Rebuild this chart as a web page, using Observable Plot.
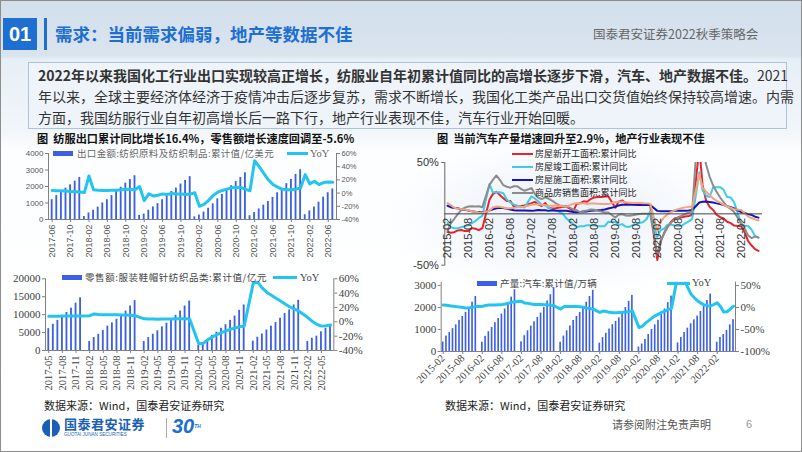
<!DOCTYPE html>
<html lang="zh"><head><meta charset="utf-8">
<script src="https://cdn.jsdelivr.net/npm/d3@7"></script>
<script src="https://cdn.jsdelivr.net/npm/@observablehq/plot@0.6"></script>
<style>
*{box-sizing:border-box}
html,body{margin:0;padding:0}
body{width:802px;height:452px;position:relative;overflow:hidden;font-family:"Noto Sans CJK SC","Noto Sans",sans-serif;background:#fff}
.abs{position:absolute;white-space:nowrap}
#slide{position:absolute;left:0;top:0;width:802px;height:452px;
 background:
  radial-gradient(ellipse 250px 110px at 560px 215px, rgba(185,205,232,0.30), rgba(255,255,255,0) 70%),
  linear-gradient(180deg,#d3dfeb 0px,#d9e4ef 55px,#e6eef6 58px,#f1f6fa 130px,#fdfeff 150px,#ffffff 100%);
 border:1px solid #8d8d8d;}
#num{left:3px;top:18px;width:34px;height:32px;background:#1d6fd1;color:#fff;font:bold 20px/32px "Liberation Sans",sans-serif;text-align:center}
#vbar{left:44px;top:18px;width:3px;height:32px;background:#1d6fd1}
#title{left:55px;top:21px;font-size:17.5px;font-weight:bold;color:#1d6fd1;line-height:26px}
#brand{left:593px;top:25px;font-size:12.5px;color:#666;line-height:18px}
#box{left:28px;top:62px;width:759px;height:67px;border:1px solid #a9c4dc;background:#eef4fa}
.tl{position:absolute;left:9px;width:746px;font-size:14px;line-height:21px;color:#333;white-space:nowrap}
.just{text-align:justify;text-align-last:justify}
.ctitle{font-size:11.2px;font-weight:bold;color:#111;line-height:12px}
.leg{font-size:9.5px;line-height:11px}
.src{font-size:11px;color:#222;line-height:14px}
</style></head>
<body>
<div id="slide"></div>
<div id="num" class="abs">01</div>
<div id="vbar" class="abs"></div>
<div id="title" class="abs">需求：当前需求偏弱，地产等数据不佳</div>
<div id="brand" class="abs">国泰君安证券2022秋季策略会</div>
<div id="box" class="abs">
  <div class="tl just" style="top:2px"><b>2022年以来我国化工行业出口实现较高正增长，纺服业自年初累计值同比的高增长逐步下滑，汽车、地产数据不佳。</b>2021</div>
  <div class="tl just" style="top:23px">年以来，全球主要经济体经济于疫情冲击后逐步复苏，需求不断增长，我国化工类产品出口交货值始终保持较高增速。内需</div>
  <div class="tl" style="top:44px">方面，我国纺服行业自年初高增长后一路下行，地产行业表现不佳，汽车行业开始回暖。</div>
</div>

<div class="abs ctitle" style="left:37px;top:132px">图&nbsp;&nbsp;纺服出口累计同比增长16.4%，零售额增长速度回调至-5.6%</div>
<div class="abs ctitle" style="left:437px;top:132px">图&nbsp;&nbsp;当前汽车产量增速回升至2.9%，地产行业表现不佳</div>

<div id="c1" class="abs" style="left:10px;top:145px"></div>
<div id="c2" class="abs" style="left:5px;top:268px"></div>
<div id="c3" class="abs" style="left:400px;top:150px"></div>
<div id="c4" class="abs" style="left:400px;top:275px"></div>

<div id="legends"></div>

<div class="abs src" style="left:44px;top:398px">数据来源：Wind，国泰君安证券研究</div>
<div class="abs src" style="left:445px;top:398px">数据来源：Wind，国泰君安证券研究</div>

<div class="abs" style="left:42px;top:419px;width:18px;height:18px;border-radius:50%;background:linear-gradient(90deg,#1b5fb5 0 42%,#fff 42% 58%,#1b5fb5 58% 100%)"></div>
<div class="abs" style="left:64px;top:416px;font-size:13px;font-weight:bold;color:#1b5fb5;line-height:16px;letter-spacing:0.5px">国泰君安证券</div>
<div class="abs" style="left:64px;top:432px;font-size:4.6px;color:#1b5fb5;line-height:6px;font-family:'Liberation Sans',sans-serif">GUOTAI JUNAN SECURITIES</div>
<div class="abs" style="left:166px;top:418px;width:1px;height:20px;background:#aaa"></div>
<div class="abs" style="left:172px;top:414px;font:italic bold 20px/24px 'Liberation Sans',sans-serif;color:#1b6fd1">30<span style="font-size:5px;vertical-align:top">TH</span></div>
<div class="abs" style="left:612px;top:417px;font-size:11px;color:#555;line-height:14px">请参阅附注免责声明</div>
<div class="abs" style="left:746px;top:417px;font-size:11px;color:#999;line-height:14px;font-family:'Liberation Sans',sans-serif">6</div>

<script>
// ---------- helpers ----------
function monthRange(start, end) {
  const out = []; let [y, m] = start.split("-").map(Number); const [ey, em] = end.split("-").map(Number);
  while (y < ey || (y === ey && m <= em)) { out.push(`${y}-${String(m).padStart(2, "0")}`); m++; if (m > 12) { m = 1; y++; } }
  return out;
}
const noJan = m => !m.endsWith("-01");
const ym = s => { const [y, m] = s.split("-").map(Number); return new Date(Date.UTC(y, m - 1, 1)); };

// ---------- chart 1: textile exports ----------
const c1Months = monthRange("2017-06", "2022-07");
const c1Export = [
  1200,1450,1700,1900,2100,2320,2550,
  180,400,560,750,1000,1200,1450,1700,1950,2200,2420,2650,
  250,330,560,760,960,1200,1450,1700,1900,2150,2370,2600,
  160,270,450,680,950,1250,1520,1800,2050,2300,2550,2830,
  230,420,640,870,1090,1340,1620,1880,2170,2430,2730,3020,
  290,520,760,1050,1350,1620,1850
];
const c1Yoy = [
  3.9,3.6,3.4,3.0,2.6,2.2,1.8,
  0.8,26,4.9,4.2,4.0,4.0,4.2,4.5,5.0,6.0,5.5,5.0,
  10,-11.4,-1.2,-4.3,-3.3,-1.2,-2.2,-0.4,-1.5,-1.5,-2.0,-1.5,
  0.5,-20,-17,-11,-3.5,1.5,4,6,8,9,8.6,5.6,
  3.5,49,40,30,20,13,9,6,5,5,6,7.6,
  28,14,18,13,16,16.8,16.4
];
const c1Ticks = ["2017-06","2017-10","2018-02","2018-06","2018-10","2019-02","2019-06","2019-10","2020-02","2020-06","2020-10","2021-02","2021-06","2021-10","2022-02","2022-06"];
const c1LeftTicks = [0, 1000, 2000, 3000, 4000];
const c1RightTicks = [-40, -20, 0, 20, 40, 60];
const c1BarLabel = "出口金额:纺织原料及纺织制品:累计值/亿美元";

// ---------- chart 2: apparel retail ----------
const c2Months = monthRange("2017-05", "2022-07");
const c2Retail = [
  6100,7300,8400,9500,10600,11800,13200,14700,
  2500,3600,4500,5600,6800,7700,8700,10000,11000,12400,13900,
  2500,3600,4500,5500,6600,7600,8700,9800,11000,12400,13800,
  1400,2100,3100,4200,5100,6200,7200,8400,9600,11200,12700,
  2600,3700,4600,5700,6800,7800,9000,10300,11300,12700,14000,
  2500,3400,4000,5200,6200,7200
];
const c2Yoy = [
  7.9,7.9,7.9,8.0,8.1,8.2,8.2,8.0,
  8.5,11,10.2,10,10,9.8,9.8,9.6,9.5,9.2,8.6,
  4.2,4.0,3.8,3.5,3.8,4.0,4.0,4.2,4.2,4.3,4.0,
  -30.7,-30,-25,-21,-18,-15,-12.5,-10.5,-8.5,-7,-6,
  54,55,47,41,37,33,29,25,21,18,15,
  6,0.5,-3.5,-6,-5.5,-4.5
];
const c2Ticks = ["2017-05","2017-08","2017-11","2018-02","2018-05","2018-08","2018-11","2019-02","2019-05","2019-08","2019-11","2020-02","2020-05","2020-08","2020-11","2021-02","2021-05","2021-08","2021-11","2022-02","2022-05"];
const c2LeftTicks = [0, 5000, 10000, 15000, 20000];
const c2RightTicks = [-40, -20, 0, 20, 40, 60];
const c2BarLabel = "零售额:服装鞋帽针纺织品类:累计值/亿元";

// ---------- chart 3: property ----------
const c3Names = ["房屋新开工面积:累计同比", "房屋竣工面积:累计同比", "房屋施工面积:累计同比", "商品房销售面积:累计同比", "房地产开发投资:累计同比"];
const c3Colors = ["#e8242a", "#3fcbea", "#1414b8", "#8c8c8c", "#f2a47e"];
const c3NewStarts = [
  -17.7,-18.4,-17.9,-16.1,-15.8,-16.8,-16.8,-13.9,-14.5,-15.9,-14.0,
  13.7,19.2,21.4,18.4,15.3,12.5,12.5,6.9,7.5,7.6,8.1,
  10.4,11.6,9.2,7.6,10.6,5.6,5.3,5.4,6.1,6.6,7.0,
  2.9,9.7,10.4,12.2,11.8,14.4,16.0,16.4,16.3,16.8,17.2,
  6.0,11.9,13.1,10.5,10.1,9.5,8.9,8.6,10.0,8.6,8.5,
  -44.9,-27.2,-18.4,-12.8,-7.6,-4.5,-3.6,-3.4,-2.6,-2.0,-1.2,
  64.3,28.2,12.8,6.9,3.8,-0.9,-3.2,-4.5,-7.7,-9.1,-11.4,
  -12.2,-17.5,-26.3,-30.6,-34.4,-36.1
];
const c3Completed = [
  -9,-13,-14,-14,-13,-12,-11,-9,-7,-4,-2,
  29,21,21,21,20,14,11,9,8,7,6.1,
  17,15,12,9,8,6,4,3,2,0,-4.4,
  -10,-13,-12,-12,-11,-11,-11,-12,-12,-12,-7.8,
  -8,-11,-10,-12.4,-12.7,-11,-10,-9,-8,-5,2.6,
  -22.9,-15.8,-14.5,-10.5,-10.5,-11.3,-11.6,-11.6,-9.2,-7.3,-4.9,
  40.4,22.9,17.9,16.4,25.7,26.0,26.0,23.4,16.3,16.0,11.2,
  -9.8,-11.5,-11.9,-15.3,-21.5,-23.3
];
const c3UnderConstruction = [
  7.9,6.5,5.6,5.4,4.2,3.9,3.2,2.6,2.1,1.7,1.3,
  3.1,4.3,5.5,6.0,5.6,5.0,4.2,3.5,3.3,3.2,3.2,
  2.9,3.2,3.7,3.5,3.5,2.9,3.4,3.2,3.1,3.0,3.0,
  1.7,1.6,1.8,2.2,2.4,2.9,3.3,3.4,3.8,4.3,5.2,
  6.8,8.2,8.8,8.8,8.8,8.8,8.8,8.7,8.8,8.7,8.7,
  2.9,2.6,2.5,2.6,2.6,3.1,3.1,3.1,3.1,3.2,3.7,
  11.0,11.8,12.0,11.5,11.0,10.2,9.5,8.6,7.5,6.5,5.2,
  1.6,1.0,-0.4,-1.0,-2.8,-3.7
];
const c3Sales = [
  -16.3,-9.2,-4.8,-0.2,3.9,6.1,7.2,7.5,7.2,7.4,6.5,
  28.2,33.1,37.4,33.2,27.9,26.4,25.5,26.9,26.8,24.3,22.5,
  25.1,19.5,15.7,14.3,16.1,14.7,12.7,10.3,8.2,7.9,7.7,
  4.1,3.6,1.3,2.9,3.3,4.2,4.0,2.9,2.2,1.4,1.3,
  -3.6,-0.9,-0.3,-1.6,-1.8,-1.3,-0.6,-0.1,0.1,0.2,-0.1,
  -39.9,-26.3,-19.3,-12.3,-8.4,-5.8,-3.3,-1.8,0.0,1.3,2.6,
  104.9,63.8,48.1,36.3,27.7,21.5,15.9,11.3,7.1,4.8,1.9,
  -9.6,-13.8,-20.9,-23.6,-22.2,-23.1
];
const c3Investment = [
  10.4,8.5,6.0,5.1,4.6,4.3,3.5,2.6,2.0,1.3,1.0,
  3.0,6.2,7.2,7.0,6.1,5.3,5.4,5.8,6.6,6.5,6.9,
  8.9,9.1,9.3,8.8,8.5,7.9,7.9,8.1,7.8,7.5,7.0,
  9.9,10.4,10.3,10.2,9.7,10.2,10.1,9.9,9.7,9.7,9.5,
  11.6,11.8,11.9,11.2,10.9,10.6,10.5,10.5,10.3,10.2,9.9,
  -16.3,-7.7,-3.3,-0.3,1.9,3.4,4.6,5.6,6.3,6.8,7.0,
  38.3,25.6,21.6,18.3,15.0,12.7,10.9,8.8,7.2,6.0,4.4,
  3.7,0.7,-2.7,-4.0,-5.4,-6.4
];
const c3Ticks = ["2015-02","2015-08","2016-02","2016-08","2017-02","2017-08","2018-02","2018-08","2019-02","2019-08","2020-02","2020-08","2021-02","2021-08","2022-02"];
const c3YTicks = [-50, 50];

// ---------- chart 4: auto output ----------
const c4Months = monthRange("2015-02", "2022-07");
const c4Output = [
  430,700,860,1040,1210,1420,1590,1780,1990,2240,2500,
  420,690,900,1090,1310,1500,1700,1930,2180,2470,2810,
  440,720,940,1150,1350,1550,1750,2000,2290,2580,2900,
  420,700,940,1160,1410,1590,1770,2000,2240,2500,2780,
  380,630,830,1020,1220,1370,1530,1750,2000,2280,2550,
  200,340,550,770,1000,1210,1420,1680,1930,2220,2520,
  390,640,860,1060,1260,1440,1610,1820,2060,2320,2610,
  420,640,770,960,1210,1450
];
const c4Yoy = [
  5.6,5,4,3,2,1,0,-1,-0.5,0.5,2,
  2.5,4.5,5.5,5.6,5.6,6,6.5,8,10,11.7,13,
  14,10,9.4,8,7,7,7,6.5,6,5,4,
  -3.6,2,2.5,2.5,2.5,2,1.5,0.5,-1,-2,-3.8,
  -11,-8,-9,-11,-12,-12,-11.5,-11,-10,-9,-7.5,
  -45.5,-43,-36,-30,-24,-19,-15,-11,-8,-5,-2,
  78,75,62,45,30,22,15,10,6,4,3.4,
  10.6,2.4,-10.5,-9.7,-3.7,2.9
];
const c4Ticks = ["2015-02","2015-08","2016-02","2016-08","2017-02","2017-08","2018-02","2018-08","2019-02","2019-08","2020-02","2020-08","2021-02","2021-08","2022-02"];
const c4LeftTicks = [0, 1000, 2000, 3000];
const c4RightTicks = [-100, -50, 0, 50];
const c4BarLabel = "产量:汽车:累计值/万辆";

// ---------- styles ----------
const BAR = "#3d5fe3", CYAN = "#22c5ef", AXIS = "#808080";
const SERIF = "'Liberation Serif','Noto Sans CJK SC',serif";
const SANS = "'Liberation Sans','Noto Sans CJK SC',sans-serif";

function barLine(cfg) {
  const bars = cfg.barMonths.map((m, i) => ({month: m, value: cfg.barValues[i]}));
  const line = cfg.lineMonths.map((m, i) => ({month: m, yoy: cfg.lineValues[i]}));
  return Plot.plot({
    width: cfg.width, height: cfg.height,
    marginLeft: cfg.ml, marginRight: cfg.mr, marginTop: cfg.mt, marginBottom: cfg.mb,
    style: {background: "transparent", overflow: "visible", fontFamily: cfg.font, color: cfg.textColor},
    x: {type: "band", domain: cfg.months, paddingInner: cfg.padIn, paddingOuter: cfg.padOut, round: false},
    y: {domain: [0, cfg.yMax]},
    marks: [
      Plot.barY(bars, {x: "month", y: "value", fill: BAR}),
      Plot.line(line, {x: "month", y: d => cfg.toLeft(d.yoy), stroke: CYAN, strokeWidth: 3, strokeLinejoin: "round", clip: true}),
      Plot.ruleY([0], {stroke: AXIS}),
      Plot.frame({anchor: "left", stroke: AXIS}),
      Plot.frame({anchor: "right", stroke: AXIS}),
      Plot.axisX({ticks: cfg.ticks, tickRotate: cfg.rotate, tickSize: 3, tickPadding: 2, fontSize: cfg.xFont, label: null, stroke: AXIS, fill: cfg.textColor}),
      Plot.axisY({anchor: "left", ticks: cfg.leftTicks, tickFormat: d => String(d), tickSize: 3, tickPadding: 2, fontSize: cfg.yFont, label: null, stroke: AXIS, fill: cfg.textColor}),
      Plot.axisY({anchor: "right", ticks: cfg.rightTicks.map(cfg.toLeft), tickFormat: v => `${Math.round(cfg.fromLeft(v))}%`, tickSize: 3, tickPadding: 2, fontSize: cfg.yFont2, label: null, stroke: AXIS, fill: cfg.textColor})
    ]
  });
}

// chart 1
document.getElementById("c1").append(barLine({
  months: c1Months, barMonths: c1Months, barValues: c1Export, lineMonths: c1Months, lineValues: c1Yoy,
  ticks: c1Ticks, leftTicks: c1LeftTicks, rightTicks: c1RightTicks,
  toLeft: p => (p + 40) * 40, fromLeft: v => v / 40 - 40, yMax: 4000,
  width: 355, height: 125, ml: 38, mr: 29, mt: 8, mb: 51, padIn: 0.6, padOut: 0.6,
  rotate: -90, font: SANS, textColor: "#595959", xFont: 9, yFont: 8, yFont2: 7.5
}));

// chart 2
const c2M = c2Months.filter((m, i) => i < 8 || noJan(m));
document.getElementById("c2").append(barLine({
  months: c2Months, barMonths: c2M, barValues: c2Retail, lineMonths: c2M, lineValues: c2Yoy,
  ticks: c2Ticks, leftTicks: c2LeftTicks, rightTicks: c2RightTicks,
  toLeft: p => (p + 40) * 200, fromLeft: v => v / 200 - 40, yMax: 20000,
  width: 365, height: 122, ml: 40, mr: 36.7, mt: 10.3, mb: 40, padIn: 0.6, padOut: 0.52,
  rotate: -90, font: SERIF, textColor: "#404040", xFont: 10.5, yFont: 11, yFont2: 11
}));

// chart 4
const c4M = c4Months.filter(noJan);
document.getElementById("c4").append(barLine({
  months: c4Months, barMonths: c4M, barValues: c4Output, lineMonths: c4M, lineValues: c4Yoy,
  ticks: c4Ticks, leftTicks: c4LeftTicks, rightTicks: c4RightTicks,
  toLeft: p => (p + 100) * 20, fromLeft: v => v / 20 - 100, yMax: 3150,
  width: 380, height: 117, ml: 40.7, mr: 45, mt: 6.7, mb: 41, padIn: 0.5, padOut: 0.36,
  rotate: -45, font: SERIF, textColor: "#404040", xFont: 10.5, yFont: 11, yFont2: 11
}));

// chart 3
const c3M = monthRange("2015-02", "2022-07").filter(noJan);
const c3Values = [c3NewStarts, c3Completed, c3UnderConstruction, c3Sales, c3Investment];
const c3Lines = c3Values.map((vals, k) => Plot.line(c3M.map((m, i) => ({date: ym(m), v: vals[i]})),
  {x: "date", y: "v", stroke: c3Colors[k], strokeWidth: 2, strokeLinejoin: "round", clip: true}));
document.getElementById("c3").append(Plot.plot({
  width: 380, height: 120, marginLeft: 44.3, marginRight: 18, marginTop: 12, marginBottom: 5.3,
  style: {background: "transparent", overflow: "visible", fontFamily: SANS, color: "#333"},
  x: {type: "utc", domain: [new Date(Date.UTC(2015, 0, 8)), new Date(Date.UTC(2022, 7, 5))]},
  y: {domain: [-50, 50]},
  marks: [
    Plot.frame({anchor: "left", stroke: "#666"}),
    ...c3Lines,
    Plot.ruleY([0], {stroke: "#444"}),
    Plot.text(c3Ticks, {x: d => ym(d), y: d => 0, text: d => d, rotate: -90, textAnchor: "end", dy: 4, fontSize: 11, fill: "#333"}),
    Plot.axisX({ticks: [], label: null}),
    Plot.axisY({anchor: "left", ticks: c3YTicks, tickFormat: d => `${d}%`, tickSize: 3, tickPadding: 3, fontSize: 11, label: null, stroke: "#666", fill: "#333"})
  ]
}));

// ---------- legends (HTML overlays) ----------
const L = document.getElementById("legends");
function add(html) { L.insertAdjacentHTML("beforeend", html); return L.lastElementChild; }
const fitters = [];
function barLegend(x, y, label, color, textX, textW) {
  add(`<div class="abs" style="left:${x}px;top:${y - 2.5}px;width:20px;height:5px;background:${BAR}"></div>`);
  const el = add(`<div class="abs leg" style="left:${textX}px;top:${y - 5.5}px;color:${color}">${label}</div>`);
  fitters.push([el, textW]);
}
function lineLegend(x, y, w, color, textX) {
  add(`<div class="abs" style="left:${x}px;top:${y - 1.5}px;width:${w}px;height:3px;background:${CYAN}"></div>`);
  add(`<div class="abs" style="left:${textX}px;top:${y - 6}px;line-height:12px;color:${color};font-family:${SERIF};font-size:10.5px">YoY</div>`);
}
barLegend(53, 153.5, c1BarLabel, "#666", 77, 197);
lineLegend(287, 153.5, 21, "#666", 310);
barLegend(62, 277.7, c2BarLabel, "#444", 85, 182);
lineLegend(273, 277.7, 24, "#444", 300);
barLegend(477, 283, c4BarLabel, "#444", 500, 97);
lineLegend(667, 283, 23, "#444", 692);
function fitAll() {
  for (const [el, target] of fitters) {
    el.style.letterSpacing = "0px";
    const w = el.getBoundingClientRect().width;
    const n = el.textContent.length;
    el.style.letterSpacing = `${Math.max(0, (target - w) / n)}px`;
  }
}
fitAll();
if (document.fonts && document.fonts.ready) document.fonts.ready.then(fitAll);
const c3LegY = [154, 167, 180, 193];
c3LegY.forEach((y, k) => {
  add(`<div class="abs" style="left:512px;top:${y - 1.1}px;width:21px;height:2.2px;background:${c3Colors[k]}"></div>`);
  add(`<div class="abs" style="left:535px;top:${y - 5}px;font-size:9px;line-height:10px;color:#222">${c3Names[k]}</div>`);
});
</script>
</body></html>
